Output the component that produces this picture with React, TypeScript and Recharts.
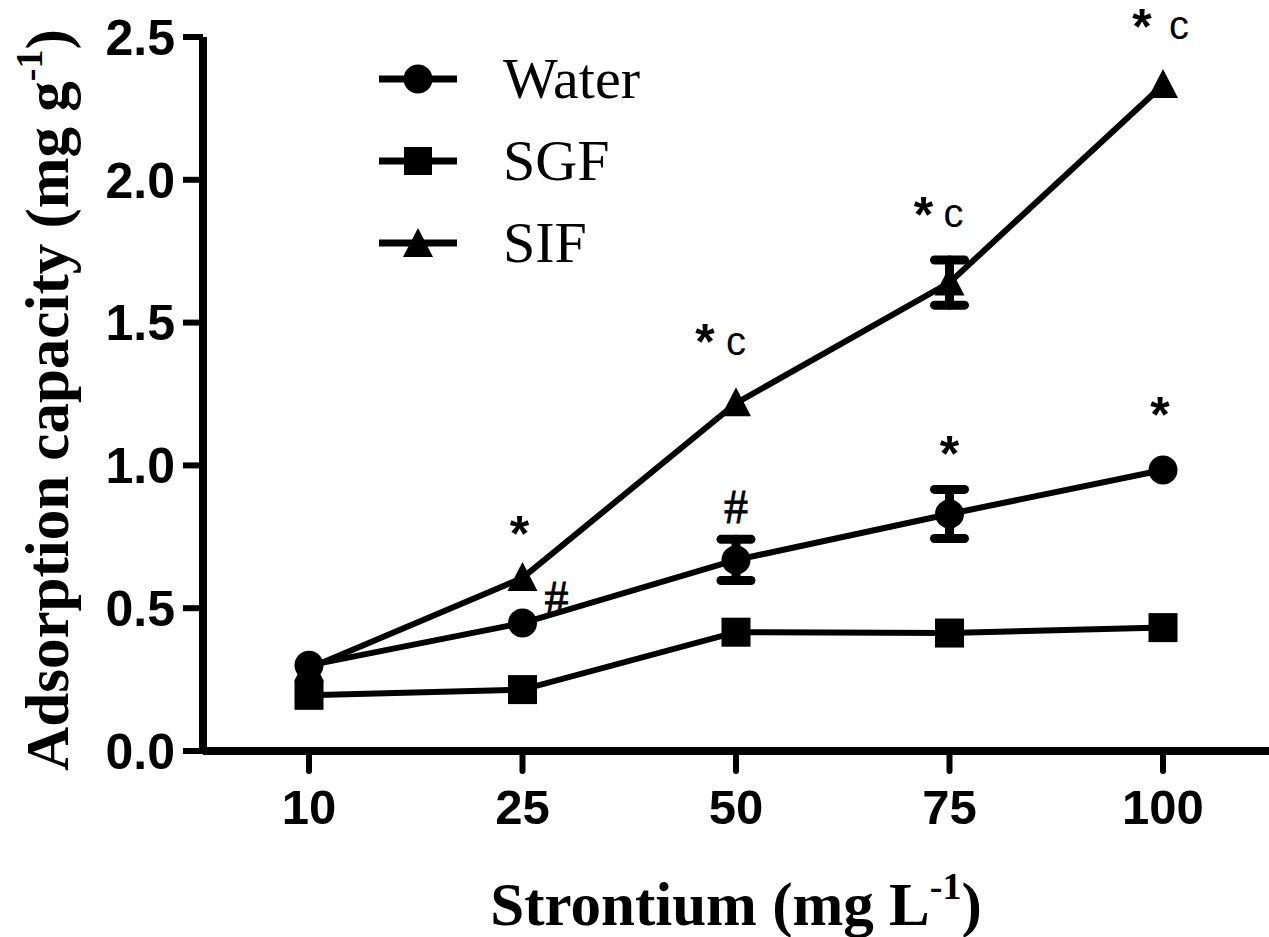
import React from 'react';
import {
  LineChart, Line, XAxis, YAxis, ErrorBar, LabelList, Label
} from 'recharts';

const concentrations = ['10', '25', '50', '75', '100'];
const waterValues = [0.3, 0.448, 0.669, 0.83, 0.984];
const waterErrors = [0, 0, 0.072, 0.086, 0];
const sgfValues = [0.195, 0.215, 0.416, 0.413, 0.432];
const sifValues = [0.29, 0.606, 1.218, 1.64, 2.332];
const sifErrors = [0, 0, 0, 0.079, 0];
const waterMarks = ['', '#', '#', '*', '*'];
const sifMarks = ['', '*', '*c', '*c', '*c'];
const yTicks = [0, 0.5, 1, 1.5, 2, 2.5];

const data = concentrations.map((c, i) => ({
  conc: c,
  water: waterValues[i],
  waterErr: waterErrors[i],
  waterMark: waterMarks[i],
  sgf: sgfValues[i],
  sif: sifValues[i],
  sifErr: sifErrors[i],
  sifMark: sifMarks[i],
}));

const SANS = '"Liberation Sans", Arial, sans-serif';
const SERIF = '"Liberation Serif", "Times New Roman", serif';

// where each significance mark sits relative to its point
const waterMarkPos = [null, [34, -26], [0, -54], [0, -62], [-3, -57]];
const sifMarkPos = [null, [-3, -46], [-31, -63], [-26, -70], [-21, -60]];
const sifCPos = [null, null, [0, -63], [4, -70], [16, -60]];

const Star = ({ x, y }) => (
  <text x={x} y={y} dy="0.62em" textAnchor="middle" fontFamily={SANS} fontWeight="bold" fontSize={50} fill="#000">*</text>
);

const renderWaterMark = (props) => {
  const { x, y, index, value } = props;
  const pos = waterMarkPos[index];
  if (!value || !pos) return null;
  if (value === '#') {
    return (
      <text key={index} x={x + pos[0]} y={y + pos[1]} dy="0.36em" textAnchor="middle" fontFamily={SERIF} fontSize={48} stroke="#000" strokeWidth={0.8} fill="#000">#</text>
    );
  }
  return <Star key={index} x={x + pos[0]} y={y + pos[1] - 12} />;
};

const renderSifMark = (props) => {
  const { x, y, index, value } = props;
  const pos = sifMarkPos[index];
  if (!value || !pos) return null;
  const cPos = sifCPos[index];
  return (
    <g key={index}>
      <Star x={x + pos[0]} y={y + pos[1] - 12} />
      {value.includes('c') && cPos && (
        <text x={x + cPos[0]} y={y + cPos[1]} dy="0.36em" textAnchor="middle" fontFamily={SANS} fontSize={40} fill="#000">c</text>
      )}
    </g>
  );
};

const SquareDot = ({ cx, cy, index }) => (
  <rect key={index} x={cx - 14.5} y={cy - 14.5} width={29} height={29} fill="#000" />
);

const TriangleDot = ({ cx, cy, index }) => (
  <polygon key={index} points={`${cx},${cy - 16} ${cx + 15},${cy + 13} ${cx - 15},${cy + 13}`} fill="#000" />
);

const legendItems = [
  { name: 'Water', shape: 'circle' },
  { name: 'SGF', shape: 'square' },
  { name: 'SIF', shape: 'triangle' },
];

const LegendIcon = ({ shape }) => (
  <svg width={78} height={32} style={{ display: 'block' }}>
    <line x1={0} y1={16} x2={78} y2={16} stroke="#000" strokeWidth={7} />
    {shape === 'circle' && <circle cx={39} cy={16} r={14.5} fill="#000" />}
    {shape === 'square' && <rect x={25} y={2} width={28} height={28} fill="#000" />}
    {shape === 'triangle' && <polygon points="39,1 54,30 24,30" fill="#000" />}
  </svg>
);

const ChartLegend = () => (
  <div style={{ position: 'absolute', left: 379, top: 38 }}>
    {legendItems.map((it) => (
      <div key={it.name} style={{ display: 'flex', alignItems: 'center', height: 82 }}>
        <LegendIcon shape={it.shape} />
        <span style={{ marginLeft: 46, fontFamily: SERIF, fontSize: 58, lineHeight: '58px', color: '#000' }}>{it.name}</span>
      </div>
    ))}
  </div>
);

const YTitle = () => {
  const cx = 68;
  const cy = 400;
  return (
    <text x={cx} y={cy} transform={`rotate(-90 ${cx} ${cy})`} textAnchor="middle" fontFamily={SERIF} fontWeight="bold" fontSize={61} fill="#000">
      Adsorption capacity (mg g<tspan fontSize={38} dy={-26}>-1</tspan><tspan dy={26}>)</tspan>
    </text>
  );
};

const XTitle = ({ viewBox }) => {
  const cx = viewBox.x + viewBox.width / 2;
  return (
    <text x={cx} y={925} textAnchor="middle" fontFamily={SERIF} fontWeight="bold" fontSize={61} fill="#000">
      Strontium (mg L<tspan fontSize={38} dy={-26}>-1</tspan><tspan dy={26}>)</tspan>
    </text>
  );
};

const App = () => {
  return (
    <div style={{ position: 'absolute', left: 0, top: 0, width: 1269, height: 937, background: '#fff' }}>
      <LineChart width={1269} height={937} data={data} margin={{ top: 37, right: 0, bottom: 0, left: 0 }}>
        <XAxis
          dataKey="conc"
          height={186}
          padding={{ left: 106, right: 106 }}
          axisLine={{ stroke: '#000', strokeWidth: 8 }}
          tickLine={{ stroke: '#000', strokeWidth: 6, strokeLinecap: 'round' }}
          tickSize={20}
          tickMargin={18}
          tick={{ fill: '#000', fontFamily: SANS, fontWeight: 'bold', fontSize: 49 }}
        >
          <Label content={XTitle} />
        </XAxis>
        <YAxis
          width={203}
          domain={[0, 2.5]}
          ticks={yTicks}
          tickFormatter={(v) => v.toFixed(1)}
          axisLine={{ stroke: '#000', strokeWidth: 8 }}
          tickLine={{ stroke: '#000', strokeWidth: 6 }}
          tickSize={20}
          tickMargin={8}
          tick={{ fill: '#000', fontFamily: SANS, fontWeight: 'bold', fontSize: 50 }}
        >
          <Label content={YTitle} />
        </YAxis>
        <Line
          dataKey="sgf"
          stroke="#000"
          strokeWidth={6}
          dot={SquareDot}
          activeDot={false}
          isAnimationActive={false}
        />
        <Line
          dataKey="sif"
          stroke="#000"
          strokeWidth={6}
          dot={TriangleDot}
          activeDot={false}
          isAnimationActive={false}
        >
          <ErrorBar dataKey="sifErr" width={15} stroke="#000" strokeWidth={9} strokeLinecap="round" />
          <LabelList dataKey="sifMark" content={renderSifMark} />
        </Line>
        <Line
          dataKey="water"
          stroke="#000"
          strokeWidth={6}
          dot={{ r: 14.5, fill: '#000', stroke: 'none' }}
          activeDot={false}
          isAnimationActive={false}
        >
          <ErrorBar dataKey="waterErr" width={15} stroke="#000" strokeWidth={9} strokeLinecap="round" />
          <LabelList dataKey="waterMark" content={renderWaterMark} />
        </Line>
      </LineChart>
      <ChartLegend />
    </div>
  );
};

export default App;
